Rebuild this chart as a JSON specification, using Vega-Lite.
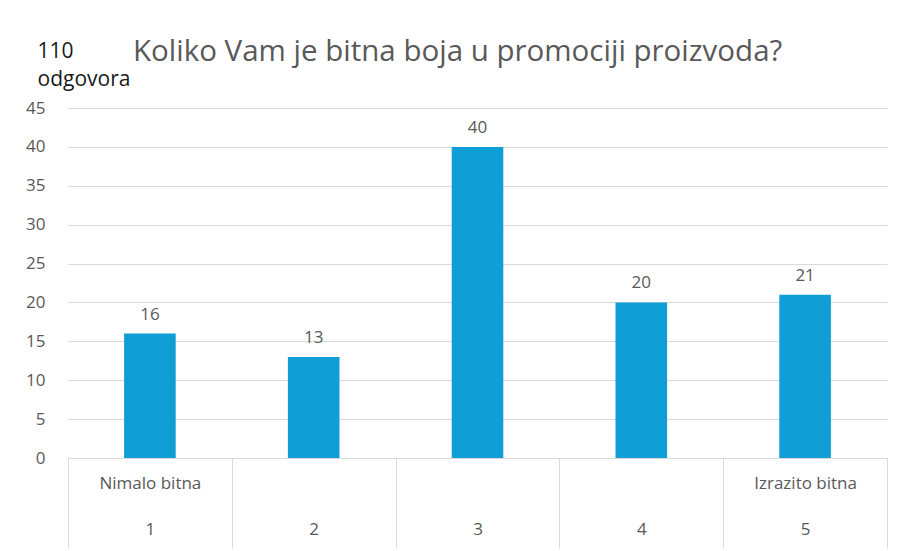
{
  "$schema": "https://vega.github.io/schema/vega-lite/v6.json",
  "autosize": {"type": "none"},
  "padding": {"left": 68, "top": 108, "right": 15, "bottom": 93},
  "width": 819,
  "height": 350,
  "background": "white",
  "title": {
    "text": "Koliko Vam je bitna boja u promociji proizvoda?",
    "anchor": "start",
    "frame": "group",
    "dx": 65,
    "offset": 0,
    "dy": 50,
    "baseline": "alphabetic",
    "font": "Open Sans",
    "fontSize": 29.5,
    "fontWeight": "normal",
    "color": "#595959"
  },
  "data": {
    "values": [
      {"ocjena": "1", "odgovori": 16},
      {"ocjena": "2", "odgovori": 13},
      {"ocjena": "3", "odgovori": 40},
      {"ocjena": "4", "odgovori": 20},
      {"ocjena": "5", "odgovori": 21}
    ]
  },
  "encoding": {
    "x": {
      "field": "ocjena",
      "type": "nominal",
      "sort": null,
      "scale": {"paddingInner": 0, "paddingOuter": 0},
      "axis": {
        "title": null,
        "labelAngle": 0,
        "domain": true,
        "domainColor": "#d9d9d9",
        "ticks": true,
        "tickBand": "extent",
        "tickSize": 90,
        "tickColor": "#d9d9d9",
        "labelPadding": -73,
        "labelExpr": "datum.value == '1' ? ['Nimalo bitna', '1'] : datum.value == '5' ? ['Izrazito bitna', '5'] : ['', datum.value]",
        "labelLineHeight": 46,
        "labelFont": "Open Sans",
        "labelFontSize": 17,
        "labelColor": "#595959",
        "labelOverlap": false,
        "labelBound": false,
        "labelFlush": false
      }
    },
    "y": {
      "field": "odgovori",
      "type": "quantitative",
      "scale": {"domain": [0, 45]},
      "axis": {
        "values": [0, 5, 10, 15, 20, 25, 30, 35, 40, 45],
        "title": ["110", "odgovora"],
        "titleAngle": 0,
        "titleAlign": "left",
        "titleBaseline": "alphabetic",
        "titleX": -31,
        "titleY": -51,
        "titleFont": "Open Sans",
        "titleFontSize": 21,
        "titleFontWeight": 500,
        "titleColor": "#1a1a1a",
        "titleLineHeight": 28,
        "domain": false,
        "ticks": false,
        "grid": true,
        "gridColor": "#d9d9d9",
        "labelPadding": 23,
        "labelFont": "Open Sans",
        "labelFontSize": 17,
        "labelColor": "#595959"
      }
    }
  },
  "layer": [
    {"mark": {"type": "bar", "color": "#0f9ed5", "width": {"band": 0.315}}},
    {
      "mark": {
        "type": "text",
        "baseline": "alphabetic",
        "dy": -14,
        "font": "Open Sans",
        "fontSize": 17,
        "color": "#595959"
      },
      "encoding": {"text": {"field": "odgovori", "type": "quantitative"}}
    }
  ],
  "config": {"view": {"stroke": null}}
}
